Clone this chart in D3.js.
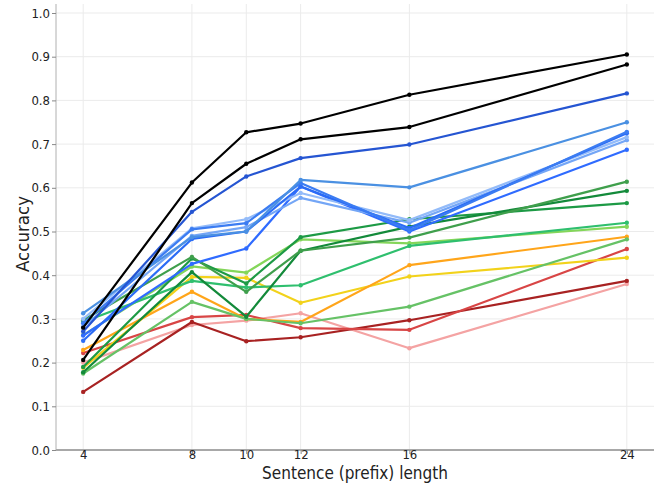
<!DOCTYPE html>
<html>
<head>
<meta charset="utf-8">
<script src="https://cdn.jsdelivr.net/npm/d3@7.9.0/dist/d3.min.js"></script>
<style>
  body { margin: 0; background: #fff; }
  svg text { font-family: "DejaVu Sans Condensed", "DejaVu Sans", sans-serif; fill: #222; }
</style>
</head>
<body>
<svg id="chart" width="657" height="484"></svg>
<script>
const lengths = [4, 8, 10, 12, 16, 24];
const yTicks = [0, 0.1, 0.2, 0.3, 0.4, 0.5, 0.6, 0.7, 0.8, 0.9, 1.0];

// one accuracy list per model, in drawing order
const black1 = [0.280, 0.612, 0.727, 0.747, 0.813, 0.905];
const black2 = [0.206, 0.565, 0.655, 0.711, 0.739, 0.882];
const blueDark = [0.271, 0.545, 0.626, 0.668, 0.699, 0.816];
const blueLight = [0.313, 0.487, 0.500, 0.618, 0.601, 0.750];
const blueA = [0.290, 0.505, 0.519, 0.611, 0.503, 0.728];
const blueB = [0.250, 0.483, 0.500, 0.603, 0.508, 0.725];
const bluePale = [0.300, 0.507, 0.528, 0.588, 0.526, 0.716];
const bluePale2 = [0.282, 0.490, 0.510, 0.577, 0.520, 0.709];
const blueLow = [0.262, 0.426, 0.461, 0.603, 0.500, 0.687];
const greenMid = [0.297, 0.442, 0.362, 0.456, 0.486, 0.614];
const greenDark = [0.178, 0.407, 0.305, 0.456, 0.511, 0.593];
const greenDeep = [0.190, 0.438, 0.381, 0.487, 0.528, 0.565];
const greenTeal = [0.293, 0.387, 0.372, 0.377, 0.467, 0.520];
const greenLight = [0.263, 0.420, 0.406, 0.482, 0.473, 0.511];
const greenSoft = [0.175, 0.339, 0.300, 0.290, 0.328, 0.482];
const orange = [0.229, 0.362, 0.300, 0.293, 0.423, 0.488];
const yellow = [0.188, 0.396, 0.394, 0.337, 0.397, 0.440];
const red = [0.222, 0.304, 0.309, 0.279, 0.275, 0.460];
const redDark = [0.133, 0.293, 0.249, 0.258, 0.297, 0.387];
const pink = [0.200, 0.286, 0.296, 0.313, 0.233, 0.380];

const series = [
  { values: pink, color: "#f4a3a3" },
  { values: redDark, color: "#a82222" },
  { values: red, color: "#d84545" },
  { values: yellow, color: "#f2d21b" },
  { values: orange, color: "#ffa51a" },
  { values: greenSoft, color: "#66c266" },
  { values: greenLight, color: "#84d65a" },
  { values: greenTeal, color: "#2fbf6e" },
  { values: greenDeep, color: "#1d9a45" },
  { values: greenDark, color: "#138a3a" },
  { values: greenMid, color: "#3f9f4c" },
  { values: blueLow, color: "#2f6bff" },
  { values: bluePale2, color: "#74a6f6" },
  { values: bluePale, color: "#93bbf9" },
  { values: blueB, color: "#2b6cf6" },
  { values: blueA, color: "#3b7cf2" },
  { values: blueLight, color: "#4a90e2" },
  { values: blueDark, color: "#2555d2" },
  { values: black2, color: "#000000" },
  { values: black1, color: "#000000" },
];

const svg = d3.select("#chart");
const x = d3.scaleLinear().domain([3, 25]).range([56, 654]);
const y = d3.scaleLinear().domain([0, 1]).range([450, 13]);

// grid
svg.append("g")
  .selectAll("line")
  .data(lengths)
  .join("line")
  .attr("x1", (d) => x(d)).attr("x2", (d) => x(d))
  .attr("y1", 4).attr("y2", 450)
  .attr("stroke", "#ebebeb");
svg.append("g")
  .selectAll("line")
  .data(yTicks)
  .join("line")
  .attr("x1", 56).attr("x2", 654)
  .attr("y1", (d) => y(d)).attr("y2", (d) => y(d))
  .attr("stroke", "#ebebeb");

// axes
const yAxis = svg.append("g")
  .attr("transform", "translate(56,0)")
  .call(d3.axisLeft(y).tickValues(yTicks).tickFormat(d3.format(".1f")).tickSize(4));
yAxis.select(".domain").attr("stroke", "#b0b0b0").attr("d", "M0,4V450");
yAxis.selectAll(".tick line").attr("stroke", "#888");
yAxis.selectAll("text").attr("font-size", 13).attr("x", -6);

const xAxis = svg.append("g")
  .attr("transform", "translate(0,450)")
  .call(d3.axisBottom(x).tickValues(lengths).tickSize(4));
xAxis.select(".domain").attr("stroke", "#a8a8a8").attr("stroke-width", 2).attr("d", "M56,0H654");
xAxis.selectAll(".tick line").attr("stroke", "#888");
xAxis.selectAll("text").attr("font-size", 13).attr("y", 0).attr("dy", "0.71em");

svg.append("text")
  .attr("x", 355).attr("y", 479)
  .attr("text-anchor", "middle")
  .attr("font-size", 17)
  .text("Sentence (prefix) length");
svg.append("text")
  .attr("transform", "translate(29,234) rotate(-90)")
  .attr("text-anchor", "middle")
  .attr("font-size", 18.5)
  .text("Accuracy");

// lines
const line = d3.line()
  .x((d, i) => x(lengths[i]))
  .y((d) => y(d));

const groups = svg.append("g")
  .selectAll("g")
  .data(series)
  .join("g");

groups.append("path")
  .attr("d", (s) => line(s.values))
  .attr("fill", "none")
  .attr("stroke", (s) => s.color)
  .attr("stroke-width", 2.2)
  .attr("stroke-linejoin", "round");

groups.selectAll("circle")
  .data((s) => s.values.map((v, i) => ({ v, i, color: s.color })))
  .join("circle")
  .attr("cx", (d) => x(lengths[d.i]))
  .attr("cy", (d) => y(d.v))
  .attr("r", 2.2)
  .attr("fill", (d) => d.color);
</script>
</body>
</html>
